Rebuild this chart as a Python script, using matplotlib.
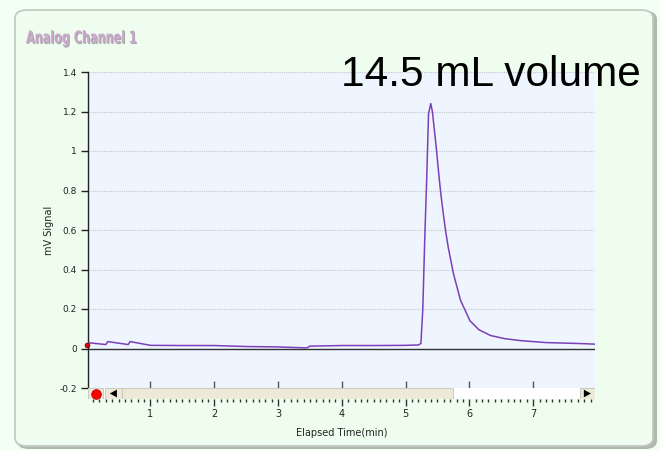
import matplotlib
matplotlib.use("Agg")
import matplotlib.pyplot as plt
from matplotlib.patches import FancyBboxPatch, Rectangle, Polygon, PathPatch
from matplotlib.textpath import TextPath
from matplotlib.font_manager import FontProperties
from matplotlib.transforms import Affine2D, IdentityTransform
from matplotlib.ticker import MultipleLocator

# Detector trace (elapsed time in min, signal in mV)
time_min = [0.0, 0.30, 0.33, 0.65, 0.68, 1.0, 1.5, 2.0, 2.5, 3.0, 3.45, 3.5,
            4.0, 4.5, 5.0, 5.2, 5.24, 5.27, 5.30, 5.33, 5.36, 5.395, 5.42,
            5.44, 5.48, 5.515, 5.55, 5.59, 5.63, 5.67, 5.75, 5.86, 6.01,
            6.15, 6.33, 6.55, 6.8, 7.2, 7.74, 7.97]
signal_mv = [0.03, 0.02, 0.035, 0.02, 0.035, 0.016, 0.015, 0.015, 0.01, 0.008,
             0.003, 0.012, 0.015, 0.015, 0.016, 0.018, 0.025, 0.20, 0.55,
             0.85, 1.19, 1.24, 1.20, 1.14, 1.02, 0.90, 0.79, 0.685, 0.59,
             0.51, 0.38, 0.245, 0.14, 0.095, 0.066, 0.05, 0.04, 0.03, 0.025,
             0.022]

y_ticks = [-0.2, 0, 0.2, 0.4, 0.6, 0.8, 1, 1.2, 1.4]
y_tick_labels = ["-0.2", "0", "0.2", "0.4", "0.6", "0.8", "1", "1.2", "1.4"]
x_ticks = [1, 2, 3, 4, 5, 6, 7]
x_tick_labels = ["1", "2", "3", "4", "5", "6", "7"]

panel_title = "Analog Channel 1"
annotation = "14.5 mL volume"
x_label = "Elapsed Time(min)"
y_label = "mV Signal"

W, H = 660, 450
fig = plt.figure(figsize=(6.6, 4.5), dpi=100)
fig.patch.set_facecolor("#f4fff4")

def fx(px):
    return px / W

def fy(py):
    return 1 - py / H

# Rounded panel with shadow
shadow = FancyBboxPatch((fx(17), fy(449)), fx(640), 438 / H,
                        boxstyle="round,pad=0,rounding_size=0.018",
                        transform=fig.transFigure, facecolor="#b0b8b0",
                        edgecolor="none", zorder=-2)
panel = FancyBboxPatch((fx(15), fy(446)), fx(638), 436 / H,
                       boxstyle="round,pad=0,rounding_size=0.018",
                       transform=fig.transFigure, facecolor="#eefdee",
                       edgecolor="#c0c8c0", linewidth=1.2, zorder=-1)
fig.patches.extend([shadow, panel])

# Narrow heavy heading: bold glyph outlines squeezed horizontally
title_path = TextPath((0, 0), panel_title, size=17,
                      prop=FontProperties(family="DejaVu Sans", weight="bold"))
for dx, dy, col in ((1, -1, "#a8a8a8"), (0, 0, "#c9a6cc")):
    tr = Affine2D().scale(0.66, 1.0).translate(26 + dx, H - 43 + dy)
    fig.patches.append(PathPatch(tr.transform_path(title_path),
                                 transform=IdentityTransform(),
                                 facecolor=col, edgecolor="none", zorder=1))

# Main plot area
left, right, top, bottom = 88, 595, 72, 388
ax = fig.add_axes([fx(left), fy(bottom), fx(right - left), (bottom - top) / H])
ax.set_facecolor("#eef5ff")
ax.plot(time_min, signal_mv, color="#7b3fb8", linewidth=1.1, zorder=3)
ax.plot([time_min[0] + 0.01], [signal_mv[0] - 0.01], marker="o", markersize=3.5,
        color="#dd0000", markeredgecolor="#550000", markeredgewidth=0.5,
        zorder=4, clip_on=False)
ax.axhline(0, color="#333333", linewidth=1.0, zorder=2)
ax.set_xlim(0.02, 7.97)
ax.set_ylim(-0.2, 1.4)
ax.set_yticks(y_ticks)
ax.set_yticklabels(y_tick_labels)
ax.yaxis.grid(True, color="#c4c8cc", linestyle=(0, (1, 1)), linewidth=0.8)
ax.set_axisbelow(True)
ax.set_xticks(x_ticks)
ax.tick_params(axis="x", direction="in", length=5, labelbottom=False,
               color="#555555", width=1)
ax.tick_params(axis="y", direction="out", length=5, labelsize=6.5,
               labelcolor="#222222", color="#222222", width=1, pad=3)
for s in ("top", "right", "bottom"):
    ax.spines[s].set_visible(False)
ax.spines["left"].set_color("#222222")
ax.spines["left"].set_linewidth(1.0)
ax.set_ylabel(y_label, fontsize=7, color="#222222", labelpad=4)

fig.text(fx(341), fy(86), annotation, fontsize=30.5, color="black",
         family=["Liberation Sans", "DejaVu Sans"], ha="left", va="baseline")

# Scrollbar strip with the time axis underneath
sb = fig.add_axes([fx(left), fy(399), fx(right - left), 11 / H])
sb.set_xlim(ax.get_xlim())
sb.set_ylim(0, 1)
sb.set_facecolor("white")
T = sb.transAxes
sb.add_patch(Rectangle((0, 0), 0.0296, 1, transform=T, facecolor="#ece9d8",
                       edgecolor="#c8c4b4", linewidth=0.6))
sb.plot([0.016], [0.5], marker="o", markersize=7, color="#ff0000",
        markeredgecolor="#aa0000", markeredgewidth=0.5, transform=T,
        clip_on=False)
sb.add_patch(Rectangle((0.0335, 0), 0.0335, 1, transform=T,
                       facecolor="#ece9d8", edgecolor="#c8c4b4", linewidth=0.6))
sb.add_patch(Polygon([(0.043, 0.5), (0.057, 0.85), (0.057, 0.15)],
                     closed=True, transform=T, facecolor="black"))
sb.add_patch(Rectangle((0.067, 0), 0.653, 1, transform=T,
                       facecolor="#ece9d8", edgecolor="#c8c4b4", linewidth=0.6))
sb.add_patch(Rectangle((0.970, 0), 0.030, 1, transform=T,
                       facecolor="#ece9d8", edgecolor="#c8c4b4", linewidth=0.6))
sb.add_patch(Polygon([(0.992, 0.5), (0.978, 0.85), (0.978, 0.15)],
                     closed=True, transform=T, facecolor="black"))
for s in sb.spines.values():
    s.set_visible(False)
sb.set_yticks([])
sb.set_xticks(x_ticks)
sb.set_xticklabels(x_tick_labels)
sb.xaxis.set_minor_locator(MultipleLocator(0.1))
sb.tick_params(axis="x", which="major", direction="out", length=5,
               labelsize=7, labelcolor="#222222", color="#333333", width=1,
               pad=2)
sb.tick_params(axis="x", which="minor", direction="out", length=2,
               color="#333333", width=1)
sb.set_xlabel(x_label, fontsize=7, color="#222222", labelpad=7)

fig.savefig("out.png", dpi=100, facecolor=fig.get_facecolor())
